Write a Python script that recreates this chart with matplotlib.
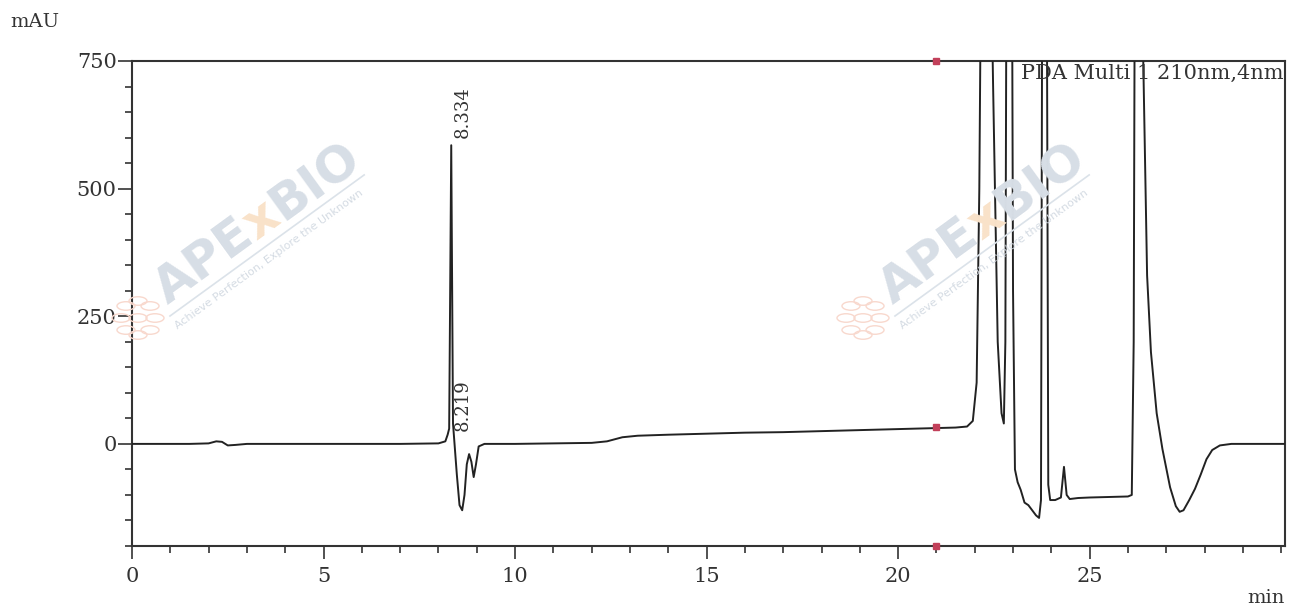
import numpy as np
import matplotlib.pyplot as plt
from matplotlib.ticker import MultipleLocator
from matplotlib.font_manager import FontProperties
from matplotlib.patches import Circle

# chromatogram trace (time in min, signal in mAU)
time_min = [0, 1.5, 2.0, 2.2, 2.35, 2.5, 2.7, 3.0, 5.0, 7.0, 8.0, 8.18, 8.24,
            8.28, 8.334, 8.38, 8.42, 8.48, 8.55, 8.62, 8.68, 8.74, 8.80, 8.86,
            8.92, 8.98, 9.05, 9.2, 10.0, 11.0, 12.0, 12.4, 12.8, 13.2, 14.0,
            15.0, 16.0, 17.0, 18.0, 19.0, 20.0, 21.0, 21.5, 21.8, 21.95, 22.05,
            22.12, 22.2, 22.35, 22.48, 22.6, 22.7, 22.76, 22.8, 22.85, 22.95,
            23.0, 23.05, 23.12, 23.2, 23.3, 23.4, 23.5, 23.6, 23.68, 23.73,
            23.78, 23.86, 23.92, 23.97, 24.1, 24.25, 24.33, 24.4, 24.48, 24.7,
            25.0, 25.5, 26.0, 26.1, 26.15, 26.2, 26.33, 26.4, 26.5, 26.6,
            26.75, 26.9, 27.1, 27.25, 27.35, 27.45, 27.6, 27.75, 27.9, 28.05,
            28.2, 28.4, 28.7, 30.1]
signal_mau = [0, 0, 1, 5, 4, -3, -2, 0, 0, 0, 1, 5, 18,
              30, 585, 40, 0, -60, -120, -130, -100, -40, -20, -35,
              -65, -40, -5, 0, 0, 1, 2, 5, 13, 16, 18,
              20, 22, 23, 25, 27, 29, 31, 32, 34, 45, 120,
              500, 1300, 1300, 700, 200, 60, 40, 200, 1500, 1500,
              300, -50, -75, -90, -115, -120, -130, -140, -145, -110,
              1500, 1500, -80, -110, -110, -105, -45, -100, -108, -106,
              -105, -104, -103, -100, 200, 1500, 1500, 750, 330, 180,
              60, -10, -85, -122, -133, -130, -110, -88, -60, -30,
              -12, -3, 0, 0]

peak_labels = ['8.334', '8.219']
peak_label_x = [8.63, 8.63]
peak_label_y = [600, 25]

marker_time = [21, 21, 21]
marker_mau = [750, 33, -200]

W, H = 1290, 611
fig = plt.figure(figsize=(W / 100, H / 100), dpi=100)
ax = fig.add_axes([132 / W, 1 - 546 / H, (1285 - 132) / W, (546 - 61) / H])

serif = 'DejaVu Serif'

ax.plot(time_min, signal_mau, color='#222222', lw=1.4, zorder=3)
ax.plot(marker_time, marker_mau, ls='none', marker='s', ms=4,
        color='#c2405a', zorder=4, clip_on=False)

ax.set_xlim(0, 30.1)
ax.set_ylim(-200, 750)
ax.set_xticks([0, 5, 10, 15, 20, 25])
ax.set_xticks(np.arange(0, 31, 1), minor=True)
ax.set_yticks([0, 250, 500, 750])
ax.yaxis.set_minor_locator(MultipleLocator(50))
ax.tick_params(which='both', direction='out', color='#333333', width=1.2,
               labelsize=15, labelcolor='#333333')
ax.tick_params(axis='x', which='major', length=9, pad=6)
ax.tick_params(axis='x', which='minor', length=5)
ax.tick_params(axis='y', which='major', length=10, pad=1)
ax.tick_params(axis='y', which='minor', length=5)
for lab in ax.get_xticklabels() + ax.get_yticklabels():
    lab.set_fontfamily(serif)
for sp in ax.spines.values():
    sp.set_color('#333333')
    sp.set_linewidth(1.5)

for s, x, y in zip(peak_labels, peak_label_x, peak_label_y):
    ax.text(x, y, s, rotation=90, ha='center', va='bottom', fontsize=13,
            family=serif, color='#333333', zorder=5)

ax.text(0.999, 0.995, 'PDA Multi 1 210nm,4nm', transform=ax.transAxes,
        ha='right', va='top', fontsize=15, family=serif, color='#333333',
        zorder=5)

fig.text(10 / W, 1 - 22 / H, 'mAU', ha='left', va='center', fontsize=14,
         family=serif, color='#333333')
fig.text(1285 / W, 1 - 598 / H, 'min', ha='right', va='center', fontsize=14,
         family=serif, color='#333333')

# faint APExBIO watermarks
renderer = fig.canvas.get_renderer()
ang = 36
ca, sa = np.cos(np.radians(ang)), np.sin(np.radians(ang))
big = FontProperties(family='DejaVu Sans', weight='bold', size=36)
for dx in [0, 725]:
    x0, y0 = 168 + dx, H - 305
    for piece, col in [('APE', '#d7dee6'), ('x', '#f9e2c9'), ('BIO', '#d7dee6')]:
        fig.text(x0 / W, y0 / H, piece, fontproperties=big, color=col,
                 rotation=ang, rotation_mode='anchor', ha='left',
                 va='baseline', zorder=1)
        w = renderer.get_text_width_height_descent(piece, big, ismath=False)[0]
        x0 += w * ca
        y0 += w * sa
    lx, ly = 170 + dx, H - 316
    fig.lines.append(plt.Line2D([lx / W, (lx + 240 * ca) / W],
                                [ly / H, (ly + 240 * sa) / H],
                                transform=fig.transFigure, color='#dbe2e9',
                                lw=1.2, zorder=1))
    fig.text((178 + dx) / W, (H - 329) / H,
             'Achieve Perfection, Explore the Unknown', fontsize=8,
             color='#d4dbe3', rotation=ang, rotation_mode='anchor',
             ha='left', va='baseline', zorder=1)
    cx, cy = 138 + dx, H - 318
    for a in np.arange(0, 360, 45):
        px = cx + 17 * np.cos(np.radians(a))
        py = cy + 17 * np.sin(np.radians(a))
        fig.patches.append(Circle((px / W, py / H), 9 / W, fill=False,
                                  ec='#f8d8cd', lw=1.0,
                                  transform=fig.transFigure, zorder=1))
    fig.patches.append(Circle((cx / W, cy / H), 9 / W, fill=False,
                              ec='#f8d8cd', lw=1.0,
                              transform=fig.transFigure, zorder=1))

ax.set_facecolor('none')
fig.savefig('out.png', dpi=100)
